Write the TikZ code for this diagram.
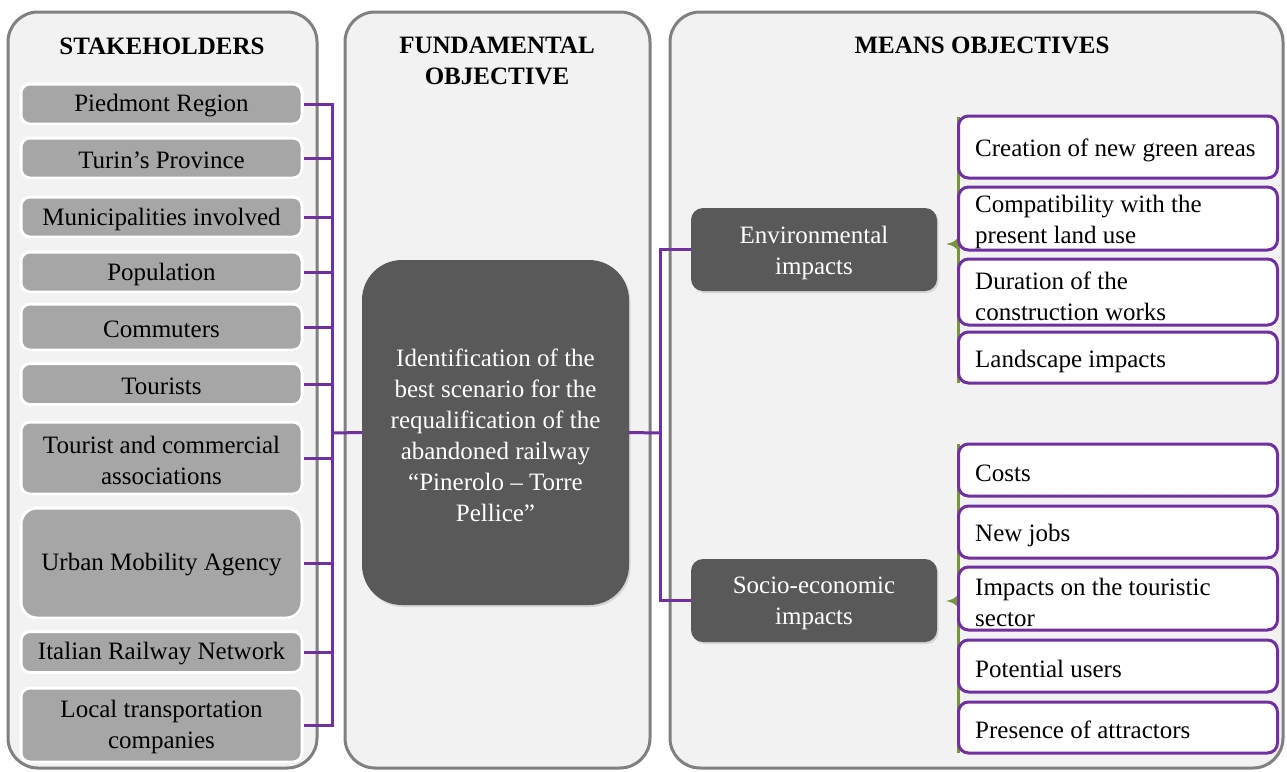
\documentclass[tikz,border=0pt]{standalone}
\usepackage{fontspec}
\setmainfont{Liberation Serif}
\usetikzlibrary{shadows}
\definecolor{panelfill}{HTML}{F2F2F2}
\definecolor{panelline}{HTML}{808080}
\definecolor{stakefill}{HTML}{A6A6A6}
\definecolor{darkfill}{HTML}{595959}
\definecolor{purp}{HTML}{7030A0}
\definecolor{olive}{HTML}{77933C}
\tikzset{
  panel/.style={draw=panelline, line width=3pt, fill=panelfill, rounded corners=30pt},
  paneltitle/.style={font=\fontsize{25}{31}\selectfont\bfseries, align=center, inner sep=0pt},
  stake/.style={draw=white, line width=3pt, fill=stakefill, rounded corners=9pt,
    minimum width=281pt, inner sep=0pt, align=center, font=\fontsize{25}{31}\selectfont,
    drop shadow={shadow xshift=1pt, shadow yshift=-1.5pt, opacity=0.25}},
  stext/.style={inner sep=0pt, align=center, font=\fontsize{25}{31}\selectfont},
  darkbox/.style={fill=darkfill, inner sep=0pt,
    drop shadow={shadow xshift=1.5pt, shadow yshift=-2pt, opacity=0.25}},
  darktext/.style={text=white, inner sep=0pt, align=center, font=\fontsize{25}{31}\selectfont},
  meanbox/.style={draw=purp, line width=3pt, fill=white, rounded corners=10pt,
    minimum width=319pt, inner sep=0pt},
  meantext/.style={inner sep=0pt, align=left, anchor=west, font=\fontsize{25}{31}\selectfont},
  conn/.style={draw=purp, line width=3pt},
  bracket/.style={draw=olive, line width=3pt},
}
\begin{document}
\begin{tikzpicture}[x=1pt,y=-1pt]
\useasboundingbox (0,0) rectangle (1287,771);
\fill[white] (0,0) rectangle (1287,771);
% panels
\draw[panel] (8,12) rectangle (317,768);
\draw[panel] (345,12) rectangle (650,768);
\draw[panel] (670,12) rectangle (1283,768);
\node[paneltitle] (t1) at (162,46) {STAKEHOLDERS};
\node[paneltitle] (t2) at (497,61) {FUNDAMENTAL\\OBJECTIVE};
\node[paneltitle] (t3) at (982,45) {MEANS OBJECTIVES};
% green brackets
\draw[bracket] (958,117) -- (958,383);
\fill[olive] (959,236) .. controls (956,241) and (952,243) .. (946,244) .. controls (952,245) and (956,247) .. (959,252) -- cycle;
\draw[bracket] (958,444) -- (958,753);
\fill[olive] (959,593) .. controls (956,598) and (952,600) .. (946,601) .. controls (952,602) and (956,604) .. (959,609) -- cycle;
% stakeholders
\node[stake, minimum height=40pt] (s1) at (161.5,104) {};
\node[stext] at (161.5,106) {Piedmont Region};
\node[stake, minimum height=40pt] (s2) at (161.5,158) {};
\node[stext] at (161.5,160) {Turin’s Province};
\node[stake, minimum height=40pt] (s3) at (161.5,217) {};
\node[stext] at (161.5,219) {Municipalities involved};
\node[stake, minimum height=40pt] (s4) at (161.5,272) {};
\node[stext] at (161.5,274) {Population};
\node[stake, minimum height=46pt] (s5) at (161.5,327) {};
\node[stext] at (161.5,329) {Commuters};
\node[stake, minimum height=41pt] (s6) at (161.5,384) {};
\node[stext] at (161.5,386) {Tourists};
\node[stake, minimum height=72pt] (s7) at (161.5,458) {};
\node[stext] at (161.5,460) {Tourist and commercial\\associations};
\node[stake, minimum height=110pt, rounded corners=16pt] (s8) at (161.5,563) {};
\node[stext] at (161.5,565) {Urban Mobility Agency};
\node[stake, minimum height=41pt] (s9) at (161.5,652) {};
\node[stext] at (161.5,654) {Italian Railway Network};
\node[stake, minimum height=74pt] (s10) at (161.5,725) {};
\node[stext] at (161.5,727) {Local transportation\\companies};
% fundamental objective
\node[darkbox, rounded corners=40pt, minimum width=267pt, minimum height=345pt] (fo) at (495.5,432.5) {};
\node[darktext] at (495.5,435.5)
  {Identification of the\\best scenario for the\\requalification of the\\abandoned railway\\“Pinerolo – Torre\\Pellice”};
% means groups
\node[darkbox, rounded corners=12pt, minimum width=246pt, minimum height=83pt] (env) at (814,249.5) {};
\node[darktext] at (814,252.5) {Environmental\\impacts};
\node[darkbox, rounded corners=12pt, minimum width=246pt, minimum height=83pt] (soc) at (814,600.5) {};
\node[darktext] at (814,603.5) {Socio-economic\\impacts};
% means objectives
\node[meanbox, minimum height=62pt] (m1) at (1118,147) {};
\node[meantext] at (975,150) {Creation of new green areas};
\node[meanbox, minimum height=63pt] (m2) at (1118,218.5) {};
\node[meantext] at (975,222) {Compatibility with the\\present land use};
\node[meanbox, minimum height=66pt] (m3) at (1118,292) {};
\node[meantext] at (975,296) {Duration of the\\construction works};
\node[meanbox, minimum height=51pt] (m4) at (1118,357.5) {};
\node[meantext] at (975,361) {Landscape impacts};
\node[meanbox, minimum height=52pt] (m5) at (1118,470) {};
\node[meantext] at (975,473) {Costs};
\node[meanbox, minimum height=52pt] (m6) at (1118,532) {};
\node[meantext] at (975,535) {New jobs};
\node[meanbox, minimum height=63pt] (m7) at (1118,598.5) {};
\node[meantext] at (975,602) {Impacts on the touristic\\sector};
\node[meanbox, minimum height=52pt] (m8) at (1118,666) {};
\node[meantext] at (975,669) {Potential users};
\node[meanbox, minimum height=51pt] (m9) at (1118,727.5) {};
\node[meantext] at (975,730) {Presence of attractors};
% connectors left
\coordinate (lb) at (332,433);
\foreach \n in {s1,s2,s3,s4,s5,s6,s7,s8,s9,s10}{
  \draw[conn] (\n.east) -| (lb);
}
\draw[conn] (lb) -- (fo.west);
% connectors right
\coordinate (rb) at (660,433);
\draw[conn] (fo.east) -- (rb);
\draw[conn] (rb) |- (env.west);
\draw[conn] (rb) |- (soc.west);
\end{tikzpicture}
\end{document}
